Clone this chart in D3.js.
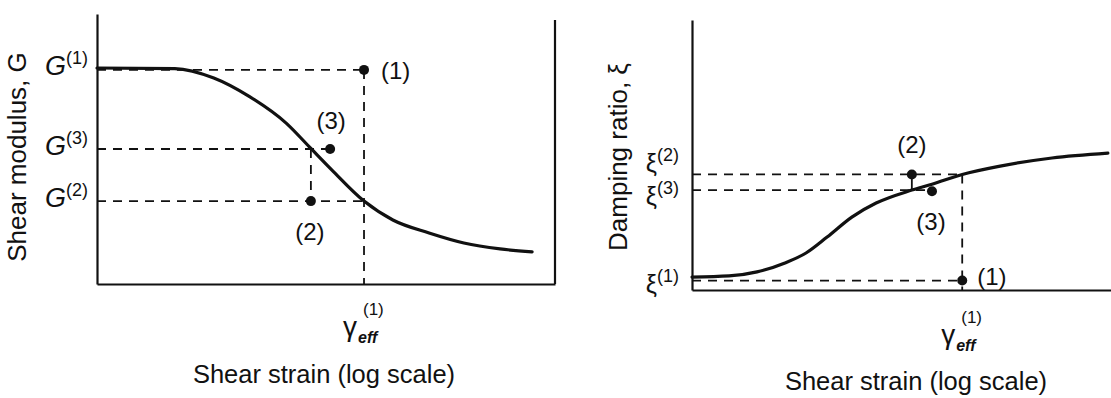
<!DOCTYPE html>
<html><head><meta charset="utf-8">
<script src="https://cdn.jsdelivr.net/npm/d3@7"></script>
<style>
body{margin:0;background:#fff}
svg{display:block}
text{font-family:"Liberation Sans",Arial,Helvetica,sans-serif;fill:#111}
</style>
</head><body>
<svg id="chart" width="1111" height="398"></svg>
<script>
// ---------- DATA (arbitrary units: x = log shear strain 0..10, y = property 0..10) ----------
// Left panel: shear modulus G vs shear strain
const gCurveX = [0, 1.7, 2.55, 3.34, 4.13, 4.67, 5.13, 5.83, 6.46, 7.25, 8.01, 8.8, 9.5];
const gCurveY = [8.0, 7.98, 7.63, 6.93, 5.96, 5.02, 4.22, 3.07, 2.37, 1.89, 1.52, 1.3, 1.19];
const gTickNames = ["(1)", "(3)", "(2)"];
const gTickValues = [7.93, 5.0, 3.07];
const gPointNames = ["(1)", "(2)", "(3)"];
const gPointX = [5.83, 4.67, 5.09];
const gPointY = [7.93, 3.07, 5.0];
const gGammaEff = 5.83;

// Right panel: damping ratio xi vs shear strain
const dCurveX = [0, 0.81, 1.42, 2.03, 2.49, 2.95, 3.49, 4.02, 4.8, 5.24, 5.9, 6.7, 7.86, 9.08];
const dCurveY = [0.48, 0.52, 0.67, 1.0, 1.37, 1.96, 2.7, 3.22, 3.7, 3.92, 4.28, 4.58, 4.89, 5.07];
const dTickNames = ["(2)", "(3)", "(1)"];
const dTickValues = [4.28, 3.7, 0.35];
const dPointNames = ["(1)", "(2)", "(3)"];
const dPointX = [5.9, 4.8, 5.24];
const dPointY = [0.35, 4.28, 3.66];
const dGammaEff = 5.9;

const xTitle = "Shear strain (log scale)";
const gTitle = "Shear modulus, G";
const dTitle = "Damping ratio, \u03BE";

// ---------- DRAWING ----------
const svg = d3.select("#chart");
const INK = "#111";
const DASH = "9,7";

function panel(cfg) {
  const g = svg.append("g");
  const x = d3.scaleLinear().domain([0, 10]).range(cfg.xRange);
  const y = d3.scaleLinear().domain([0, 10]).range(cfg.yRange);

  // axes (domain lines only)
  const ax = g.append("g").attr("transform", `translate(0,${y(0)})`)
    .call(d3.axisBottom(x).tickValues([]).tickSizeOuter(0));
  const ay = g.append("g").attr("transform", `translate(${x(0)},0)`)
    .call(d3.axisLeft(y).tickValues([]).tickSizeOuter(0));
  [ax, ay].forEach(a => a.select(".domain").attr("stroke", INK).attr("stroke-width", 2.2));

  if (cfg.rightBorder) {
    g.append("line").attr("x1", x(10)).attr("x2", x(10))
      .attr("y1", y(0)).attr("y2", y(cfg.rightBorder))
      .attr("stroke", INK).attr("stroke-width", 2.2);
  }

  // dashed construction lines
  const dl = (x1, y1, x2, y2, dash) => g.append("line")
    .attr("x1", x(x1)).attr("y1", y(y1)).attr("x2", x(x2)).attr("y2", y(y2))
    .attr("stroke", INK).attr("stroke-width", 1.8)
    .attr("stroke-dasharray", dash === undefined ? DASH : dash);
  cfg.segments.forEach(s => dl(s[0], s[1], s[2], s[3], s[4]));

  // curve
  const pts = cfg.cx.map((v, i) => [v, cfg.cy[i]]);
  g.append("path").datum(pts)
    .attr("d", d3.line().x(d => x(d[0])).y(d => y(d[1])).curve(d3.curveMonotoneX))
    .attr("fill", "none").attr("stroke", INK).attr("stroke-width", 3.2)
    .attr("stroke-linecap", "round");

  // points
  cfg.px.forEach((v, i) => {
    g.append("circle").attr("cx", x(v)).attr("cy", y(cfg.py[i])).attr("r", 5).attr("fill", INK);
    const o = cfg.labelOff[i];
    g.append("text").attr("x", x(v) + o[0]).attr("y", y(cfg.py[i]) + o[1])
      .attr("text-anchor", o[2]).attr("font-size", 24).text(cfg.pnames[i]);
  });

  // y tick labels (symbol with superscript)
  cfg.tickValues.forEach((v, i) => {
    const t = g.append("text").attr("x", cfg.tickX).attr("y", y(v) + cfg.tickOff[i])
      .attr("text-anchor", "end");
    t.append("tspan").attr("font-size", cfg.symSize).attr("font-style", cfg.symStyle).text(cfg.sym);
    t.append("tspan").attr("font-size", 18).attr("dy", -11).text(cfg.tickNames[i]);
  });

  // gamma_eff label
  const gx = x(cfg.gamma);
  g.append("text").attr("x", gx - 21).attr("y", cfg.gammaY).attr("font-size", 28).text("\u03B3");
  g.append("text").attr("x", gx - 1).attr("y", cfg.gammaY - 21).attr("font-size", 17).text("(1)");
  g.append("text").attr("x", gx - 6).attr("y", cfg.gammaY + 7).attr("font-size", 16)
    .attr("font-style", "italic").attr("font-weight", "bold").text("eff");

  // axis titles
  g.append("text").attr("x", cfg.xTitlePos[0]).attr("y", cfg.xTitlePos[1])
    .attr("text-anchor", "middle").attr("font-size", 25.5).text(xTitle);
  g.append("text").attr("transform", `translate(${cfg.yTitlePos[0]},${cfg.yTitlePos[1]}) rotate(-90)`)
    .attr("text-anchor", "middle").attr("font-size", 26).text(cfg.yTitle);
}

// Left panel
panel({
  xRange: [97, 555], yRange: [284, 14], rightBorder: 9.78,
  cx: gCurveX, cy: gCurveY,
  px: gPointX, py: gPointY, pnames: gPointNames,
  labelOff: [[17, 9, "start"], [-1, 39, "middle"], [1, -20, "middle"]],
  segments: [
    [0, gTickValues[0], gGammaEff, gTickValues[0]],
    [gGammaEff, gTickValues[0], gGammaEff, 0],
    [0, gTickValues[1], gPointX[2], gTickValues[1]],
    [gPointX[1], gTickValues[1], gPointX[1], gTickValues[2]],
    [0, gTickValues[2], gGammaEff, gTickValues[2]]
  ],
  tickValues: gTickValues, tickNames: gTickNames, tickX: 88, tickOff: [5, 6, 6],
  sym: "G", symSize: 27, symStyle: "italic",
  gamma: gGammaEff, gammaY: 336,
  xTitlePos: [324, 383], yTitle: gTitle, yTitlePos: [26, 157]
});

// Right panel
panel({
  xRange: [692, 1150], yRange: [290, 20], rightBorder: 0,
  cx: dCurveX, cy: dCurveY,
  px: dPointX, py: dPointY, pnames: dPointNames,
  labelOff: [[15, 4, "start"], [0, -21, "middle"], [-1, 39, "middle"]],
  segments: [
    [0, dTickValues[0], dGammaEff, dTickValues[0]],
    [dGammaEff, dTickValues[0], dGammaEff, 0],
    [0, dTickValues[1], dPointX[2], dTickValues[1]],
    [dPointX[1], dTickValues[0], dPointX[1], dTickValues[1], "none"],
    [0, dTickValues[2], dGammaEff, dTickValues[2]]
  ],
  tickValues: dTickValues, tickNames: dTickNames, tickX: 679, tickOff: [-2, 15, 12],
  sym: "\u03BE", symSize: 25, symStyle: "normal",
  gamma: dGammaEff, gammaY: 344,
  xTitlePos: [916, 390], yTitle: dTitle, yTitlePos: [627, 157]
});
</script>
</body></html>
